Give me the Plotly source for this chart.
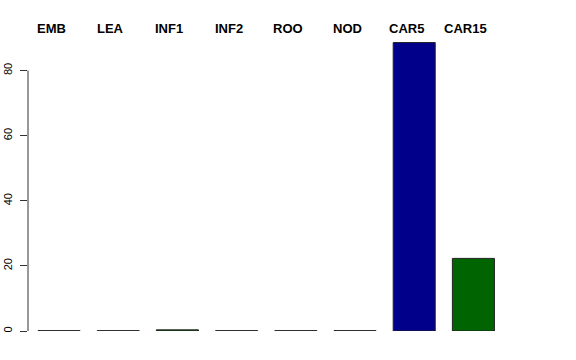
import plotly.graph_objects as go

categories = ["EMB", "LEA", "INF1", "INF2", "ROO", "NOD", "CAR5", "CAR15"]
values = [0.1, 0.1, 0.35, 0.1, 0.1, 0.1, 88.6, 22.3]
colors = ["#555555", "#8a6a6a", "darkgreen", "#4a3a60", "#4a3a60", "#4a3a60", "#00008b", "#006400"]
y_ticks = [0, 20, 40, 60, 80]

x_idx = list(range(len(categories)))

fig = go.Figure()
fig.add_trace(go.Bar(
    x=x_idx, y=values,
    marker=dict(color=colors, line=dict(color="#222222", width=1)),
    width=0.71,
    hoverinfo="skip",
))

for i, c in enumerate(categories):
    fig.add_annotation(x=i, y=1, xref="x", yref="paper", text="<b>" + c + "</b>",
                       showarrow=False, xanchor="center", yanchor="middle",
                       xshift=-8, yshift=10, font=dict(family="Liberation Sans, Arial", size=13, color="black"))

fig.add_shape(type="line", xref="paper", yref="y", x0=0, x1=0, y0=0, y1=80,
              line=dict(color="#333333", width=1))

fig.update_layout(
    width=576, height=360,
    margin=dict(l=28, r=28, t=38, b=29, autoexpand=False),
    plot_bgcolor="white", paper_bgcolor="white",
    showlegend=False,
    font=dict(family="Liberation Sans, Arial", color="black"),
    xaxis=dict(range=[-0.524, 8.26], showgrid=False, zeroline=False, showline=False,
               showticklabels=False, ticks="", automargin=False),
    yaxis=dict(range=[0, 90], showgrid=False, zeroline=False, showline=False,
               tickvals=y_ticks, ticktext=[str(v) for v in y_ticks],
               ticks="outside", ticklen=7, tickcolor="#333333", tickwidth=1,
               tickangle=-90, tickfont=dict(size=11, color="black"),
               ticklabelstandoff=4, automargin=False),
)

fig.write_html("out.html")
